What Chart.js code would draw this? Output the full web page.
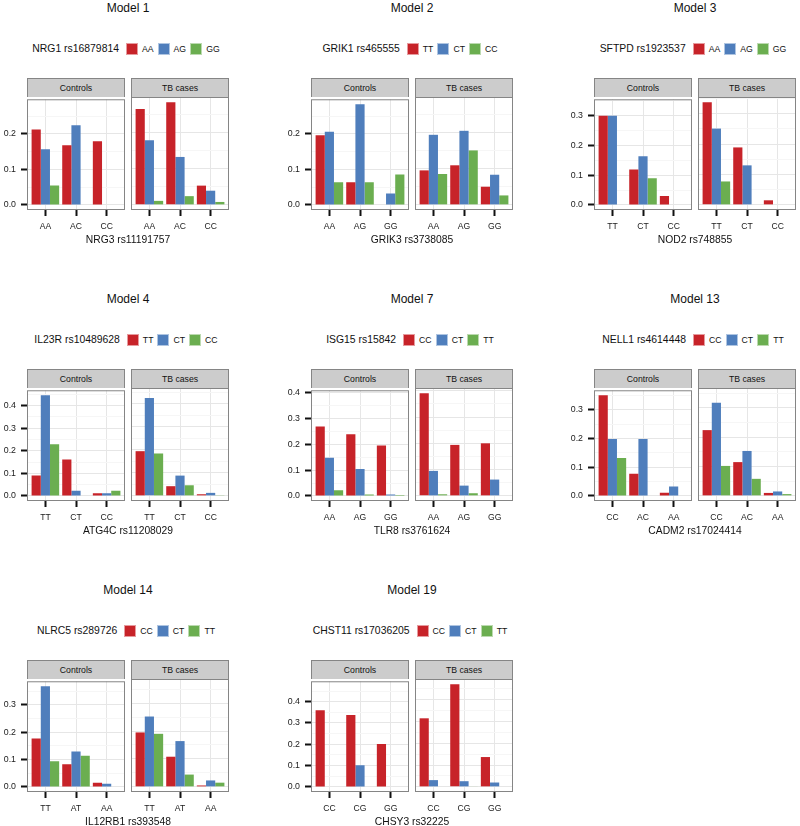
<!DOCTYPE html>
<html>
<head>
<meta charset="utf-8">
<script src="https://cdn.jsdelivr.net/npm/chart.js@4"></script>
<style>
  body { margin: 0; background: #fff; font-family: 'Liberation Sans', Arial, sans-serif; color: #111; }
  #page { position: relative; width: 800px; height: 826px; overflow: hidden; }
  .abs { position: absolute; }
  .title { font-size: 12px; text-align: center; height: 16px; line-height: 16px; }
  .legend { display: flex; justify-content: center; align-items: center; height: 15px; }
  .legend .lt { font-size: 10.4px; margin-right: 7px; }
  .legend .sw { display: inline-block; width: 12px; height: 12px; box-sizing: border-box; border: 1px solid rgba(255,255,255,.55); outline: 0; }
  .legend .ll { font-size: 8.7px; margin: 0 4px 0 4px; }
  .strip { box-sizing: border-box; background: #cccccc; border: 1px solid #858585; border-bottom: 0;
           font-size: 8.7px; text-align: center; height: 19px; line-height: 18px; width: 98px; }
  .xtitle { font-size: 10.3px; text-align: center; height: 14px; line-height: 14px; }
  canvas { position: absolute; }
</style>
</head>
<body>
<div id="page"></div>
<script>
// chart data
var modelTitles = ['Model 1', 'Model 2', 'Model 3', 'Model 4', 'Model 7', 'Model 13', 'Model 14', 'Model 19'];
var legendTitles = ['NRG1 rs16879814', 'GRIK1 rs465555', 'SFTPD rs1923537', 'IL23R rs10489628',
  'ISG15 rs15842', 'NELL1 rs4614448', 'NLRC5 rs289726', 'CHST11 rs17036205'];
var legendLabels = [['AA', 'AG', 'GG'], ['TT', 'CT', 'CC'], ['AA', 'AG', 'GG'], ['TT', 'CT', 'CC'],
  ['CC', 'CT', 'TT'], ['CC', 'CT', 'TT'], ['CC', 'CT', 'TT'], ['CC', 'CT', 'TT']];
var xTitles = ['NRG3 rs11191757', 'GRIK3 rs3738085', 'NOD2 rs748855', 'ATG4C rs11208029',
  'TLR8 rs3761624', 'CADM2 rs17024414', 'IL12RB1 rs393548', 'CHSY3 rs32225'];
var xCategories = [['AA', 'AC', 'CC'], ['AA', 'AG', 'GG'], ['TT', 'CT', 'CC'], ['TT', 'CT', 'CC'],
  ['AA', 'AG', 'GG'], ['CC', 'AC', 'AA'], ['TT', 'AT', 'AA'], ['CC', 'CG', 'GG']];
var facetNames = ['Controls', 'TB cases'];
var yTicks = [[0, 0.1, 0.2], [0, 0.1, 0.2], [0, 0.1, 0.2, 0.3], [0, 0.1, 0.2, 0.3, 0.4],
  [0, 0.1, 0.2, 0.3, 0.4], [0, 0.1, 0.2, 0.3], [0, 0.1, 0.2, 0.3], [0, 0.1, 0.2, 0.3, 0.4]];

// one row per legend genotype, one value per x category
var model1Controls = [[0.212, 0.168, 0.179], [0.157, 0.224, 0], [0.055, 0, 0]];
var model1Cases = [[0.264, 0.283, 0.053], [0.178, 0.132, 0.039], [0.011, 0.024, 0.008]];
var model2Controls = [[0.196, 0.064, 0], [0.206, 0.283, 0.032], [0.064, 0.064, 0.086]];
var model2Cases = [[0.095, 0.109, 0.050], [0.193, 0.204, 0.083], [0.085, 0.150, 0.026]];
var model3Controls = [[0.300, 0.119, 0.030], [0.300, 0.164, 0], [0, 0.090, 0]];
var model3Cases = [[0.338, 0.189, 0.015], [0.251, 0.130, 0], [0.077, 0, 0]];
var model4Controls = [[0.091, 0.162, 0.012], [0.446, 0.023, 0.012], [0.229, 0, 0.023]];
var model4Cases = [[0.194, 0.042, 0.007], [0.425, 0.088, 0.013], [0.184, 0.046, 0.003]];
var model7Controls = [[0.270, 0.240, 0.196], [0.148, 0.105, 0.006], [0.022, 0.006, 0.004]];
var model7Cases = [[0.391, 0.194, 0.200], [0.095, 0.039, 0.062], [0.006, 0.010, 0]];
var model13Controls = [[0.350, 0.077, 0.011], [0.198, 0.198, 0.033], [0.132, 0, 0]];
var model13Cases = [[0.224, 0.115, 0.010], [0.317, 0.153, 0.015], [0.102, 0.058, 0.006]];
var model14Controls = [[0.177, 0.083, 0.015], [0.368, 0.130, 0.012], [0.094, 0.114, 0]];
var model14Cases = [[0.195, 0.108, 0.005], [0.252, 0.164, 0.023], [0.190, 0.044, 0.015]];
var model19Controls = [[0.360, 0.337, 0.202], [0, 0.102, 0], [0, 0, 0]];
var model19Cases = [[0.315, 0.472, 0.137], [0.031, 0.026, 0.020], [0, 0.002, 0]];

var controlsValues = [model1Controls, model2Controls, model3Controls, model4Controls,
  model7Controls, model13Controls, model14Controls, model19Controls];
var casesValues = [model1Cases, model2Cases, model3Cases, model4Cases,
  model7Cases, model13Cases, model14Cases, model19Cases];

var seriesColors = ['#C72329', '#4F7EBC', '#6BAE50'];

Chart.defaults.font.family = "'Liberation Sans', Arial, sans-serif";
Chart.defaults.color = '#1a1a1a';

var PANEL_W = 98, PANEL_H = 113, FACET_GAP = 6, Y_AXIS_W = 27, X_AXIS_H = 25, PAD_TOP = 8;

var isMajor = function(v) {
	return Math.abs(v * 10 - Math.round(v * 10)) < 1e-6;
};

var panelBorder = {
	id: 'panelBorder',
	afterDraw: function(chart) {
		var a = chart.chartArea, ctx = chart.ctx;
		ctx.save();
		ctx.strokeStyle = '#858585';
		ctx.lineWidth = 1;
		ctx.strokeRect(a.left + 0.5, a.top + 0.5, a.right - a.left - 1, a.bottom - a.top - 1);
		ctx.restore();
	}
};

var addDiv = function(cls, left, top, width, text) {
	var d = document.createElement('div');
	d.className = 'abs ' + cls;
	d.style.left = left + 'px';
	d.style.top = top + 'px';
	if (width) d.style.width = width + 'px';
	if (text) d.textContent = text;
	document.getElementById('page').appendChild(d);
	return d;
};

var handleRenderFacet = function(m, f, left, top) {
	var values = f === 0 ? controlsValues[m] : casesValues[m];
	var cats = xCategories[m];
	var dataMax = Math.max.apply(null, controlsValues[m].concat(casesValues[m]).map(function(r) { return Math.max.apply(null, r); }));
	var yMin = -0.05 * dataMax, yMax = 1.05 * dataMax;
	var majors = yTicks[m];
	var yw = f === 0 ? Y_AXIS_W : 0;

	var canvas = document.createElement('canvas');
	canvas.width = yw + PANEL_W;
	canvas.height = PAD_TOP + PANEL_H + X_AXIS_H;
	canvas.style.left = (left - yw) + 'px';
	canvas.style.top = (top - PAD_TOP) + 'px';
	document.getElementById('page').appendChild(canvas);

	new Chart(canvas, {
		type: 'bar',
		data: {
			datasets: values.map(function(row, s) {
				return {
					label: legendLabels[m][s],
					data: row.map(function(v, i) { return { x: i + 1, y: v }; }),
					backgroundColor: seriesColors[s],
					borderWidth: 0,
					categoryPercentage: 0.9,
					barPercentage: 1
				};
			})
		},
		options: {
			responsive: false,
			animation: false,
			layout: { padding: { top: PAD_TOP, left: 0, right: 0, bottom: 0 } },
			plugins: { legend: { display: false }, tooltip: { enabled: false } },
			scales: {
				x: {
					type: 'linear',
					offset: false,
					min: 0.4,
					max: cats.length + 0.6,
					afterBuildTicks: function(scale) {
						scale.ticks = cats.map(function(c, i) { return { value: i + 1 }; });
					},
					afterFit: function(scale) { scale.height = X_AXIS_H; },
					ticks: {
						font: { size: 8.6 },
						padding: 5,
						maxRotation: 0,
						autoSkip: false,
						callback: function(v) { return cats[v - 1]; }
					},
					grid: { offset: false, drawTicks: true, color: '#e6e6e6', tickColor: '#111', tickLength: 6, tickWidth: 2 },
					border: { display: false }
				},
				y: {
					min: yMin,
					max: yMax,
					afterBuildTicks: function(scale) {
						var t = [];
						for (var k = 0; k * 0.05 <= yMax + 1e-9; k++) t.push({ value: Math.round(k * 5) / 100 });
						scale.ticks = t;
					},
					afterFit: function(scale) { scale.width = yw; },
					ticks: {
						display: f === 0,
						font: { size: 8.8 },
						padding: 5,
						autoSkip: false,
						callback: function(v) {
							return majors.indexOf(v) >= 0 ? v.toFixed(1) : '';
						}
					},
					grid: {
						drawTicks: f === 0,
						tickLength: 6,
						tickWidth: 2,
						color: function(c) { return isMajor(c.tick.value) ? '#e6e6e6' : '#f6f6f6'; },
						tickColor: function(c) { return isMajor(c.tick.value) ? '#111' : 'rgba(0,0,0,0)'; }
					},
					border: { display: false }
				}
			}
		},
		plugins: [panelBorder]
	});
};

var handleRenderModel = function(m) {
	var col = m % 3, row = Math.floor(m / 3);
	var ox = Math.round(27 + col * 283.6), oy = row * 291;
	var fullW = 2 * PANEL_W + FACET_GAP;

	addDiv('title', ox, oy, fullW, modelTitles[m]);

	var lg = addDiv('legend', ox - 20, oy + 41, fullW + 40);
	var html = '<span class="lt">' + legendTitles[m] + '</span>';
	legendLabels[m].forEach(function(l, s) {
		html += '<span class="sw" style="background:' + seriesColors[s] + '"></span><span class="ll">' + l + '</span>';
	});
	lg.innerHTML = html;

	facetNames.forEach(function(name, f) {
		var left = ox + f * (PANEL_W + FACET_GAP);
		addDiv('strip', left, oy + 78, PANEL_W, name);
		handleRenderFacet(m, f, left, oy + 97);
	});

	addDiv('xtitle', ox - 20, oy + 233, fullW + 40, xTitles[m]);
};

for (var m = 0; m < modelTitles.length; m++) handleRenderModel(m);
</script>
</body>
</html>
